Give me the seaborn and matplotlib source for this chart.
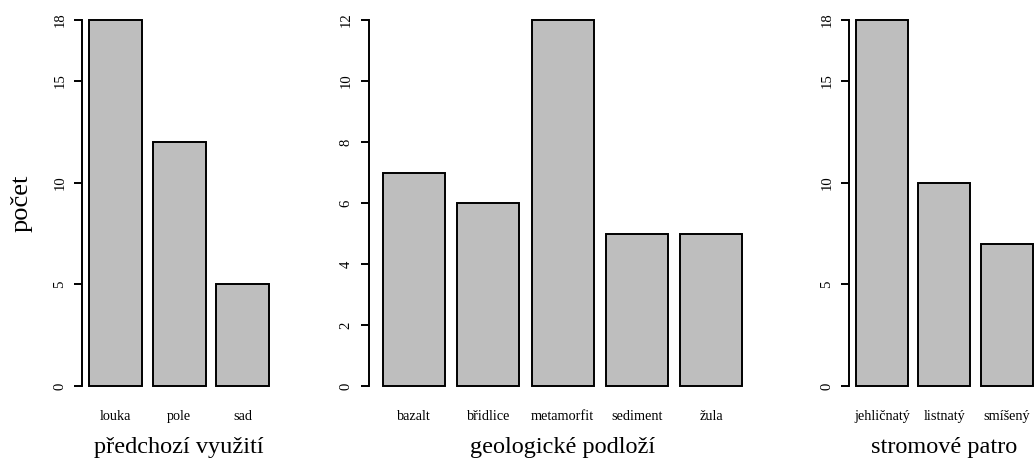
import matplotlib
matplotlib.use("Agg")
import matplotlib.pyplot as plt
import seaborn as sns
import pandas as pd

# ---- data ----
use_cats = ["louka", "pole", "sad"]
use_counts = [18, 12, 5]
use_yticks = [0, 5, 10, 15, 18]

geo_cats = ["bazalt", "břidlice", "metamorfit", "sediment", "žula"]
geo_counts = [7, 6, 12, 5, 5]
geo_yticks = [0, 2, 4, 6, 8, 10, 12]

tree_cats = ["jehličnatý", "listnatý", "smíšený"]
tree_counts = [18, 10, 7]
tree_yticks = [0, 5, 10, 15, 18]

xlabels = ["předchozí využití", "geologické podloží", "stromové patro"]
ylabel_text = "počet"

# ---- style ----
sns.set_theme(style="white")
plt.rcParams["font.family"] = ["Liberation Serif", "DejaVu Serif"]

W, H = 1036, 459
fig = plt.figure(figsize=(W / 100, H / 100), dpi=100)

BAR_COLOR = "#BEBEBE"
LW = 1.4

# layout: (left edge px, px per seaborn unit)
layouts = [(82, 63.6), (368.5, 74.4), (849, 62.4)]
zero_px_from_top = 386.0
top_px_from_top = 20.0
span = zero_px_from_top - top_px_from_top

panels = [
    (use_cats, use_counts, use_yticks),
    (geo_cats, geo_counts, geo_yticks),
    (tree_cats, tree_counts, tree_yticks),
]

for i, ((cats, counts, yticks), (left_px, ppu)) in enumerate(zip(panels, layouts)):
    n = len(cats)
    e = 0.04 * (1.2 * n - 0.2)
    x0 = (-0.5 - e) / 1.2
    x1 = (1.2 * n - 0.7 + e) / 1.2
    width_px = (x1 - x0) * ppu
    ax_h_px = span * 1.08
    bottom_px = zero_px_from_top + 0.04 * span
    ax = fig.add_axes([left_px / W, (H - bottom_px) / H, width_px / W, ax_h_px / H])

    df = pd.DataFrame({"cat": cats, "n": counts})
    sns.barplot(data=df, x="cat", y="n", ax=ax, color=BAR_COLOR, saturation=1,
                edgecolor="black", linewidth=LW, width=1 / 1.2)
    ymax = max(yticks)
    ax.set_xlim(x0, x1)
    ax.set_ylim(-0.04 * ymax, 1.04 * ymax)

    for s in ["top", "right", "bottom"]:
        ax.spines[s].set_visible(False)
    ax.spines["left"].set_color("black")
    ax.spines["left"].set_linewidth(LW)
    ax.spines["left"].set_bounds(0, ymax)

    ax.set_yticks(yticks)
    ax.set_yticklabels([str(t) for t in yticks], rotation=90, va="center")
    ax.tick_params(axis="y", left=True, length=5.8, width=LW, color="black",
                   direction="out", pad=5.5, labelsize=10.6, labelcolor="black")
    ax.tick_params(axis="x", bottom=False, length=0, pad=7, labelsize=10.3,
                   labelcolor="black")

    ax.set_xlabel(xlabels[i], fontsize=17.5, color="black")
    ax.xaxis.set_label_coords(0.5, -(453 - bottom_px) / ax_h_px)
    ax.xaxis.label.set_va("baseline")

    if i == 0:
        ax.set_ylabel(ylabel_text, fontsize=19, color="black")
        ax.yaxis.set_label_coords((33 - left_px) / width_px, 0.5)
    else:
        ax.set_ylabel("")

fig.savefig("out.png", dpi=100, facecolor="white")
